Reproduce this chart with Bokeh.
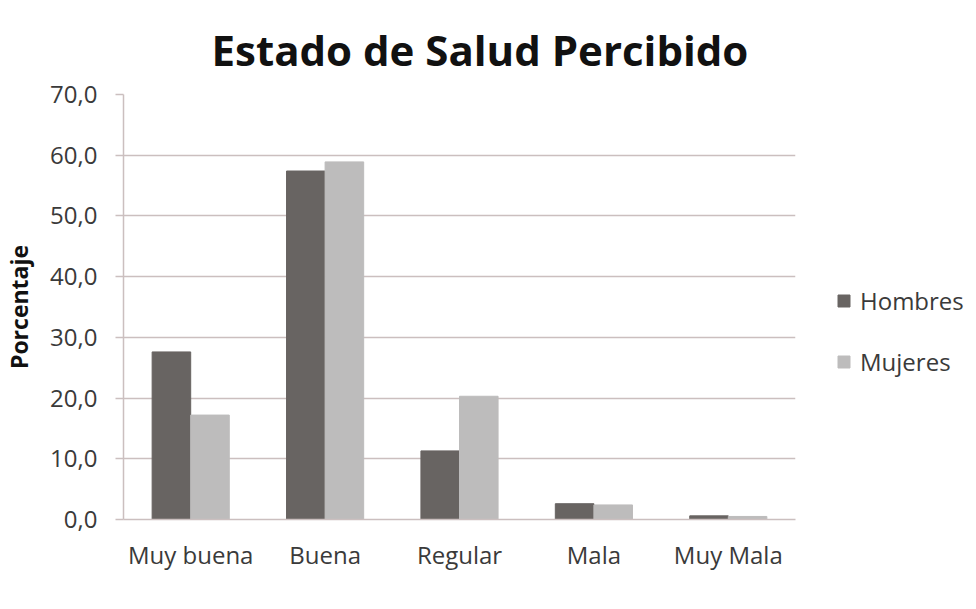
from bokeh.plotting import figure
from bokeh.models import (FactorRange, Range1d, ColumnDataSource, Legend, LegendItem,
                          CustomJSTickFormatter, FixedTicker)
from bokeh.transform import dodge
from bokeh.embed import file_html
from bokeh.resources import INLINE

categories = ["Muy buena", "Buena", "Regular", "Mala", "Muy Mala"]
hombres = [27.6, 57.4, 11.3, 2.6, 0.6]
mujeres = [17.2, 58.9, 20.3, 2.4, 0.5]
y_ticks = [0, 10, 20, 30, 40, 50, 60, 70]

src = ColumnDataSource(dict(cat=categories, hombres=hombres, mujeres=mujeres))

FONT = "Open Sans"
TXT = "#3a3a3a"
GRID = "#cbbfbf"

p = figure(x_range=FactorRange(*categories, range_padding=0),
           y_range=Range1d(0, 70),
           frame_width=672, frame_height=425, output_backend="svg", toolbar_location=None,
           min_border_left=121, min_border_right=0, min_border_top=94, min_border_bottom=74)

p.title.text = "Estado de Salud Percibido"
p.title.text_font = FONT
p.title.text_font_size = "42px"
p.title.text_font_style = "bold"
p.title.text_color = "#111111"
p.title.align = "left"
p.title.offset = 88
p.title.standoff = 33

w = 0.287
r1 = p.vbar(x=dodge("cat", -w / 2, range=p.x_range), top="hombres", width=w, source=src,
            fill_color="#686462", line_color="#686462")
r2 = p.vbar(x=dodge("cat", w / 2, range=p.x_range), top="mujeres", width=w, source=src,
            fill_color="#bdbcbc", line_color="#bdbcbc")

legend = Legend(items=[LegendItem(label="Hombres", renderers=[r1]),
                       LegendItem(label="Mujeres", renderers=[r2])],
                location=(31, 131))
legend.border_line_alpha = 0
legend.background_fill_alpha = 0
legend.label_text_font = FONT
legend.label_text_font_size = "24px"
legend.label_text_color = TXT
legend.glyph_width = 15
legend.glyph_height = 15
legend.label_height = 24
legend.spacing = 28
legend.label_standoff = 9
legend.padding = 10
legend.margin = 0
p.add_layout(legend, "right")

p.xgrid.grid_line_color = None
p.ygrid.grid_line_color = GRID
p.ygrid.grid_line_width = 1.5
p.outline_line_color = None

p.yaxis.ticker = FixedTicker(ticks=y_ticks)
p.yaxis.formatter = CustomJSTickFormatter(code="return tick.toFixed(1).replace('.', ',');")
p.yaxis.axis_label = "Porcentaje"
p.yaxis.axis_label_text_font = FONT
p.yaxis.axis_label_text_font_size = "23px"
p.yaxis.axis_label_text_font_style = "bold"
p.yaxis.axis_label_text_color = "#111111"
p.yaxis.axis_label_standoff = 12
p.yaxis.major_label_text_font = FONT
p.yaxis.major_label_text_font_size = "24px"
p.yaxis.major_label_text_color = TXT
p.yaxis.major_tick_out = 8
p.yaxis.major_tick_in = 0
p.yaxis.minor_tick_out = 0
p.yaxis.minor_tick_in = 0
p.yaxis.major_label_standoff = 18
p.yaxis.axis_line_color = GRID
p.yaxis.axis_line_width = 1.5
p.yaxis.major_tick_line_color = GRID
p.yaxis.major_tick_line_width = 1.5

p.xaxis.major_label_text_font = FONT
p.xaxis.major_label_text_font_size = "24px"
p.xaxis.major_label_text_color = TXT
p.xaxis.major_tick_out = 0
p.xaxis.major_tick_in = 0
p.xaxis.major_label_standoff = 18
p.xaxis.axis_line_color = GRID
p.xaxis.axis_line_width = 1.5

open("out.html", "w").write(file_html(p, INLINE))
